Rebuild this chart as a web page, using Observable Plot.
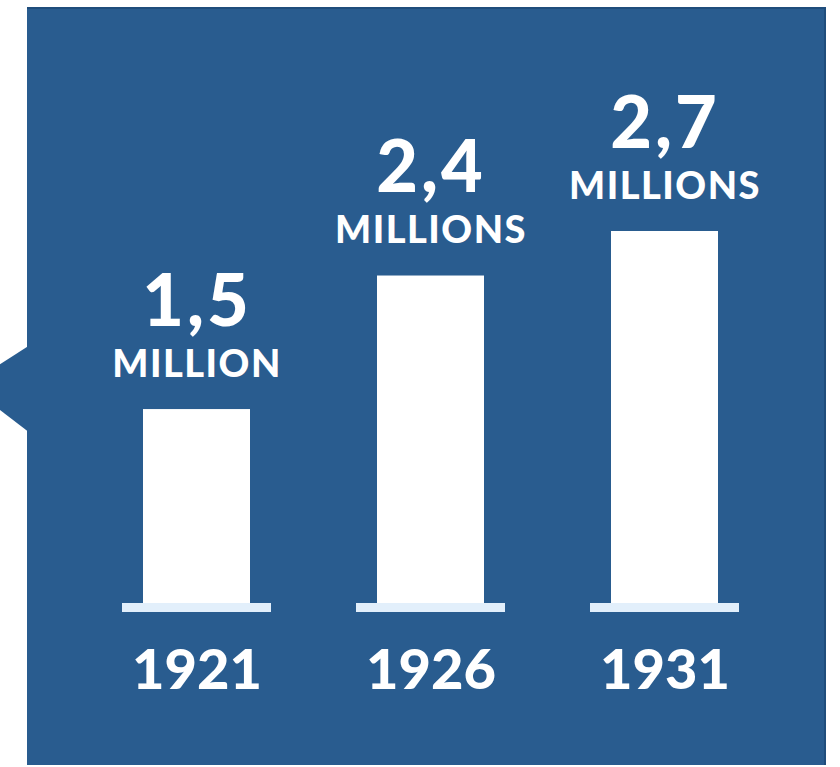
<!DOCTYPE html>
<html>
<head>
<meta charset="utf-8">
<script src="https://cdn.jsdelivr.net/npm/d3@7"></script>
<script src="https://cdn.jsdelivr.net/npm/@observablehq/plot@0.6"></script>
<style>
  html, body { margin: 0; padding: 0; background: #ffffff; }
  #wrap { position: relative; width: 840px; height: 767px; overflow: hidden; }
  #panel { position: absolute; left: 27px; top: 7px; width: 799px; height: 758px; background: #295c8f;
           box-shadow: inset 0 2px 0 #1f4d7c, inset -2px 0 0 #1f4d7c; }
  #notch { position: absolute; left: 0; top: 345px; width: 30px; height: 88px; background: #295c8f;
           clip-path: polygon(100% 0, 0 22%, 0 74%, 100% 100%); }
  #chart { position: absolute; left: 0; top: 0; }
  .unit-label text { letter-spacing: 1.5px; }
  .value-label text { letter-spacing: 3px; }
</style>
</head>
<body>
<div id="wrap">
  <div id="panel"></div>
  <div id="notch"></div>
  <div id="chart"></div>
</div>
<script>
const years = ["1921", "1926", "1931"];
const values = [1.5, 2.4, 2.7];
const valueLabels = ["1,5", "2,4", "2,7"];
const unitLabels = ["MILLION", "MILLIONS", "MILLIONS"];

const data = years.map((year, i) => ({
  year,
  value: values[i],
  valueLabel: valueLabels[i],
  unitLabel: unitLabels[i]
}));

const font = "Lato, 'Open Sans', sans-serif";

const chart = Plot.plot({
  width: 840,
  height: 767,
  marginTop: 0, marginRight: 0, marginBottom: 0, marginLeft: 0,
  style: { background: "transparent", fontFamily: font, overflow: "visible" },
  x: { domain: years, range: [26, 835.6], paddingInner: 0.544, paddingOuter: 0.5, axis: null },
  y: { domain: [0.193, 2.7], range: [603, 231], clamp: true, axis: null },
  marks: [
    Plot.barY(data, { x: "year", y: "value", fill: "#ffffff" }),
    Plot.tickY(data, { x: "year", y: 0, stroke: "#e2effb", strokeWidth: 9, dy: 4, insetLeft: -21, insetRight: -21 }),
    Plot.text(data, { x: "year", y: 0, text: "year", fill: "#ffffff", fontSize: 56, fontWeight: 900,
      lineAnchor: "bottom", dy: 85, fontFamily: font }),
    Plot.text(data, { x: "year", y: "value", text: "unitLabel", fill: "#ffffff", fontSize: 38, fontWeight: 900,
      lineAnchor: "bottom", dy: -33, fontFamily: font, className: "unit-label" }),
    Plot.text(data, { x: "year", y: "value", text: "valueLabel", fill: "#ffffff", fontSize: 72, fontWeight: 900,
      lineAnchor: "bottom", dy: -84, fontFamily: font, className: "value-label" })
  ]
});

document.getElementById("chart").appendChild(chart);
</script>
</body>
</html>
